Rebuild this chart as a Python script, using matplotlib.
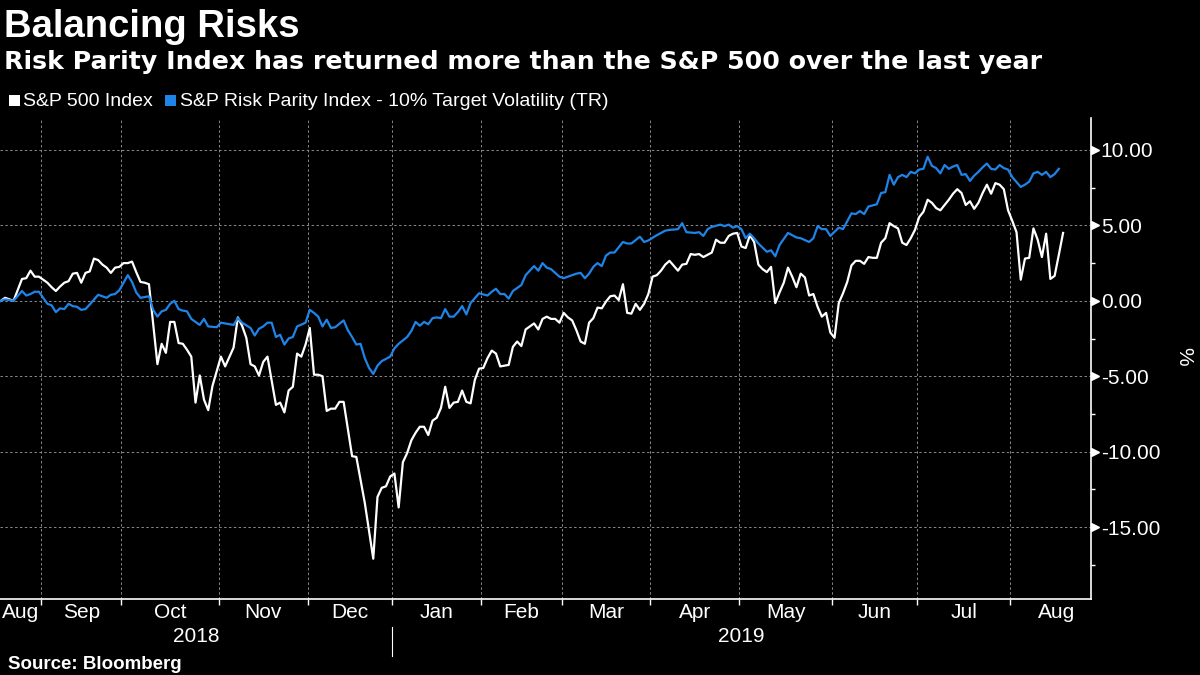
import numpy as np
import pandas as pd
import matplotlib
matplotlib.use("Agg")
import matplotlib.pyplot as plt
import matplotlib.transforms as mtransforms
from matplotlib.patches import Rectangle

# x = trading-day number counted from 20 Aug 2018 (Bloomberg calendar)
# y = % change since start
sp500_day = [0, 1, 2, 3, 5, 6, 7, 8, 9, 11, 12, 13, 14, 15, 16, 17, 18, 19, 20, 21,
             22, 23, 24, 25, 26, 27, 28, 29, 30, 31, 32, 33, 34, 35, 37, 38, 39, 40, 41, 42,
             43, 44, 45, 46, 47, 48, 49, 50, 52, 53, 55, 56, 57, 58, 59, 60, 61, 62, 63, 65,
             66, 67, 68, 69, 70, 71, 72, 73, 74, 75, 76, 77, 78, 79, 80, 81, 83, 84, 86, 88,
             89, 90, 91, 92, 93, 94, 95, 96, 97, 98, 99, 100, 101, 102, 103, 104, 105, 106, 107, 108,
             109, 110, 111, 112, 113, 114, 115, 116, 117, 118, 120, 121, 122, 123, 124, 125, 126, 127, 128, 129,
             130, 131, 132, 133, 134, 135, 136, 137, 138, 139, 140, 141, 142, 143, 144, 145, 146, 147, 148, 149,
             150, 151, 152, 153, 154, 155, 156, 157, 158, 160, 161, 162, 163, 164, 165, 166, 167, 168, 169, 170,
             171, 172, 173, 174, 175, 176, 177, 178, 179, 180, 181, 182, 183, 184, 185, 186, 187, 188, 189, 190,
             191, 192, 193, 194, 195, 196, 197, 198, 199, 200, 201, 202, 203, 204, 205, 206, 207, 208, 209, 210,
             211, 212, 213, 214, 215, 216, 217, 218, 219, 220, 221, 222, 223, 224, 225, 226, 227, 228, 229, 230,
             231, 232, 233, 234, 235, 236, 237, 238, 239, 240, 241, 242, 243, 244, 245, 246, 247, 248, 249, 250,
             251]
sp500_pct = [0.0, 0.2, 0.1, 0.0, 1.45, 1.5, 2.0, 1.6, 1.6, 1.2, 0.9, 0.65, 0.95, 1.2, 1.3, 1.8, 1.85, 1.2, 1.85, 1.95,
             2.8, 2.7, 2.4, 2.2, 1.85, 2.2, 2.25, 2.5, 2.5, 2.6, 1.9, 1.25, 1.2, 1.1, -4.2, -2.85, -3.45, -1.4, -1.4, -2.8,
             -2.85, -3.25, -3.7, -6.75, -4.95, -6.55, -7.25, -5.65, -3.7, -4.35, -3.1, -1.1, -1.65, -2.45, -4.2, -4.35, -4.95, -4.05, -3.7, -6.9,
             -6.75, -7.4, -5.95, -5.7, -3.5, -3.7, -2.9, -1.8, -4.9, -4.9, -5.0, -7.3, -7.15, -7.15, -6.7, -6.7, -10.3, -10.35, -13.4, -17.1,
             -13.0, -12.4, -12.3, -11.65, -11.45, -13.7, -10.7, -10.1, -9.25, -8.75, -8.35, -8.35, -8.9, -7.95, -7.75, -7.1, -5.7, -7.1, -6.75, -6.7,
             -5.95, -6.7, -6.8, -5.25, -4.5, -4.45, -3.8, -3.3, -3.5, -4.35, -4.25, -3.05, -2.7, -3.0, -1.9, -1.7, -1.5, -1.9, -1.2, -1.05,
             -1.2, -1.2, -1.45, -0.8, -1.1, -1.3, -1.95, -2.7, -2.85, -1.45, -1.15, -0.45, -0.5, -0.05, 0.3, 0.35, 0.05, 1.1, -0.8, -0.85,
             -0.2, -0.6, -0.2, 0.45, 1.6, 1.7, 2.0, 2.4, 2.65, 2.0, 2.4, 2.45, 3.1, 3.05, 3.1, 2.9, 3.05, 3.2, 4.05, 3.85,
             3.85, 4.3, 4.45, 4.5, 3.6, 3.5, 4.35, 3.9, 2.4, 2.1, 1.9, 2.25, -0.15, 0.55, 1.2, 2.2, 1.6, 0.9, 1.8, 1.55,
             0.35, 0.45, -0.4, -1.05, -0.8, -2.1, -2.45, -0.15, 0.5, 1.25, 2.35, 2.65, 2.65, 2.45, 2.9, 2.85, 2.85, 3.85, 4.15, 5.15,
             4.95, 4.8, 3.85, 3.7, 4.15, 4.7, 5.55, 5.9, 6.7, 6.5, 6.15, 6.0, 6.35, 6.7, 7.1, 7.4, 7.15, 6.35, 6.6, 6.1,
             6.5, 7.15, 7.7, 7.1, 7.8, 7.7, 7.4, 6.0, 5.3, 4.55, 1.4, 2.8, 2.85, 4.8, 4.05, 2.9, 4.45, 1.45, 1.65, 3.05,
             4.5]

rp_day = [0, 1, 3, 5, 6, 7, 8, 9, 10, 11, 12, 13, 14, 15, 16, 17, 18, 19, 20, 21,
          23, 25, 26, 27, 28, 29, 30, 31, 32, 33, 35, 36, 37, 38, 39, 40, 41, 42, 43, 44,
          45, 46, 47, 48, 49, 51, 52, 55, 56, 57, 59, 60, 61, 62, 63, 64, 65, 66, 67, 68,
          69, 70, 72, 73, 74, 75, 76, 77, 78, 79, 81, 82, 83, 84, 85, 86, 87, 88, 89, 90,
          92, 93, 94, 96, 97, 98, 99, 100, 101, 102, 103, 104, 105, 106, 107, 108, 109, 110, 111, 113,
          115, 116, 117, 118, 119, 120, 121, 123, 124, 126, 127, 128, 129, 130, 131, 132, 133, 135, 136, 137,
          138, 139, 140, 141, 142, 143, 144, 145, 147, 148, 149, 151, 152, 153, 155, 157, 158, 160, 161, 162,
          164, 165, 166, 167, 168, 170, 171, 172, 173, 174, 175, 176, 177, 178, 179, 181, 182, 183, 184, 186,
          188, 189, 191, 192, 193, 194, 195, 196, 198, 199, 201, 202, 203, 204, 205, 207, 208, 209, 210, 211,
          212, 213, 214, 215, 216, 217, 218, 219, 220, 221, 222, 223, 224, 225, 226, 227, 228, 229, 230, 231,
          232, 233, 234, 235, 236, 237, 238, 239, 241, 242, 243, 244, 245, 246, 247, 248, 249, 250]
rp_pct = [0.0, 0.1, 0.0, 0.65, 0.35, 0.45, 0.6, 0.6, 0.2, -0.2, -0.3, -0.75, -0.5, -0.55, -0.2, -0.35, -0.4, -0.6, -0.55, -0.25,
          0.4, 0.2, 0.4, 0.45, 0.7, 1.2, 1.7, 1.25, 0.55, 0.2, 0.3, -0.6, -1.05, -0.7, -0.6, -0.2, 0.0, -0.55, -0.65, -0.7,
          -1.2, -1.4, -1.6, -1.2, -1.7, -1.75, -1.45, -1.6, -1.15, -1.45, -1.8, -2.3, -1.85, -1.7, -1.45, -1.45, -2.4, -2.25, -2.9, -2.5,
          -2.4, -1.7, -1.45, -0.6, -0.8, -1.05, -1.7, -1.25, -1.8, -1.75, -1.3, -1.95, -2.4, -2.9, -2.85, -3.8, -4.45, -4.85, -4.3, -4.0,
          -3.7, -3.15, -2.85, -2.4, -2.0, -1.4, -1.65, -1.4, -1.55, -1.15, -1.1, -1.15, -0.55, -1.05, -1.05, -0.75, -0.35, -0.9, -0.15, 0.5,
          0.35, 0.6, 0.8, 0.45, 0.45, 0.15, 0.65, 1.05, 1.7, 2.3, 2.0, 2.5, 2.2, 2.1, 1.85, 1.6, 1.5, 1.7, 1.8, 1.85,
          1.5, 1.8, 2.25, 2.5, 2.3, 3.0, 3.2, 3.2, 3.9, 3.8, 3.8, 4.25, 3.9, 4.0, 4.35, 4.65, 4.7, 4.75, 5.15, 4.55,
          4.5, 4.55, 4.3, 4.75, 4.9, 5.05, 4.95, 5.05, 4.85, 4.95, 4.75, 4.15, 4.45, 4.15, 3.8, 3.25, 3.35, 2.95, 3.7, 4.5,
          4.2, 4.15, 3.9, 4.15, 4.95, 4.75, 4.75, 4.3, 4.85, 4.75, 5.8, 5.75, 5.95, 5.75, 6.25, 6.4, 7.15, 7.2, 8.35, 7.7,
          8.2, 8.35, 8.2, 8.55, 8.45, 8.7, 8.75, 9.55, 8.95, 8.8, 8.45, 9.0, 8.75, 8.9, 9.0, 8.35, 8.4, 7.95, 8.3, 8.55,
          8.85, 9.1, 8.75, 8.7, 9.0, 8.8, 8.7, 8.2, 7.55, 7.7, 7.9, 8.45, 8.55, 8.35, 8.55, 8.2, 8.4, 8.75]

holidays = ["2018-09-03", "2018-11-22", "2018-12-25", "2019-01-01", "2019-01-21",
            "2019-02-18", "2019-04-19", "2019-05-27", "2019-07-04"]
y_ticks = [-15, -10, -5, 0, 5, 10]

title = "Balancing Risks"
subtitle = "Risk Parity Index has returned more than the S&P 500 over the last year"
legend_labels = ["S&P 500 Index", "S&P Risk Parity Index - 10% Target Volatility (TR)"]
WHITE = "#ffffff"
BLUE = "#1f84e8"
GRID = "#8a8a8a"
SANS = ["Liberation Sans", "DejaVu Sans"]

# trading calendar
days = pd.bdate_range("2018-08-20", "2019-08-30")
days = days[~days.isin(pd.to_datetime(holidays))]
starts = [0] + [i for i in range(1, len(days)) if days[i].month != days[i - 1].month]
bounds = [s - 0.5 for s in starts[1:]]
year_split = [i for i in range(len(days)) if days[i].year == 2019][0] - 0.5

W, H = 1200, 675
fig = plt.figure(figsize=(12, 6.75), dpi=100, facecolor="black")
ax = fig.add_axes([0, 1 - 599 / H, 1091 / W, (599 - 118) / H], facecolor="black")

xmin, xmax = -0.2, 257.6
ax.plot(sp500_day, sp500_pct, color=WHITE, lw=1.6)
ax.plot(rp_day, rp_pct, color=BLUE, lw=1.6)
ax.set_xlim(xmin, xmax)
ax.set_ylim(-19.77, 12.12)

for s in ["left", "top"]:
    ax.spines[s].set_visible(False)
for s in ["right", "bottom"]:
    ax.spines[s].set_color(WHITE)
    ax.spines[s].set_linewidth(1.2)

ax.set_xticks(bounds)
ax.set_xticklabels([])
ax.tick_params(axis="x", direction="out", length=4, width=1, color=WHITE)

ax.yaxis.tick_right()
ax.set_yticks(y_ticks)
ax.set_yticks(np.arange(-17.5, 12, 5), minor=True)
ax.set_yticklabels([f"{v:.2f}" for v in y_ticks], fontsize=15, color=WHITE, family=SANS)
ax.tick_params(axis="y", which="major", length=0, pad=7)
ax.tick_params(axis="y", which="minor", direction="out", length=3, width=1, color=WHITE)
ax.grid(True, which="major", color=GRID, lw=0.7, ls=(0, (2.5, 2.5)))

# arrow-shaped major ticks
tri = mtransforms.offset_copy(ax.get_yaxis_transform(), fig=fig, x=4, y=0, units="dots")
ax.plot(np.ones(len(y_ticks)), y_ticks, ls="none", marker=">", ms=6, color=WHITE,
        transform=tri, clip_on=False)

# month and year labels
xt = ax.get_xaxis_transform()
ends = starts[1:] + [len(days)]
for s, e in zip(starts, ends):
    left = max(s - 0.5, xmin)
    mid = (left + e - 0.5) / 2
    ax.text(mid, -0.028, days[s].strftime("%b"), transform=xt, ha="center", va="center",
            color=WHITE, fontsize=15, family=SANS)
ax.text((xmin + year_split) / 2, -0.079, "2018", transform=xt, ha="center", va="center",
        color=WHITE, fontsize=15, family=SANS)
ax.text((year_split + xmax) / 2, -0.079, "2019", transform=xt, ha="center", va="center",
        color=WHITE, fontsize=15, family=SANS)
ax.plot([year_split, year_split], [-0.058, -0.118], transform=xt, color=WHITE, lw=0.8,
        clip_on=False)

fig.text(1184 / W, 1 - 356 / H, "%", rotation=270, ha="center", va="center", color=WHITE,
         fontsize=15, family=SANS)

# titles
fig.text(4 / W, 1 - 37 / H, title, color=WHITE, fontsize=27.5, fontweight="bold",
         family=SANS, va="baseline")
fig.text(4 / W, 1 - 69 / H, subtitle, color=WHITE, fontsize=18.2, fontweight="bold",
         family=["DejaVu Sans"], va="baseline")

# legend
leg_x = [9, 165]
txt_x = [23, 180]
for lx, tx, lab, col in zip(leg_x, txt_x, legend_labels, [WHITE, BLUE]):
    fig.add_artist(Rectangle((lx / W, 1 - 106 / H), 11 / W, 11 / H, transform=fig.transFigure,
                             color=col, lw=0))
    fig.text(tx / W, 1 - 106 / H, lab, color=WHITE, fontsize=14, va="baseline", family=SANS)

fig.text(8 / W, 1 - 669 / H, "Source: Bloomberg", color=WHITE, fontsize=13.5,
         fontweight="bold", family=SANS, va="baseline")

fig.savefig("out.png", dpi=100, facecolor="black")
